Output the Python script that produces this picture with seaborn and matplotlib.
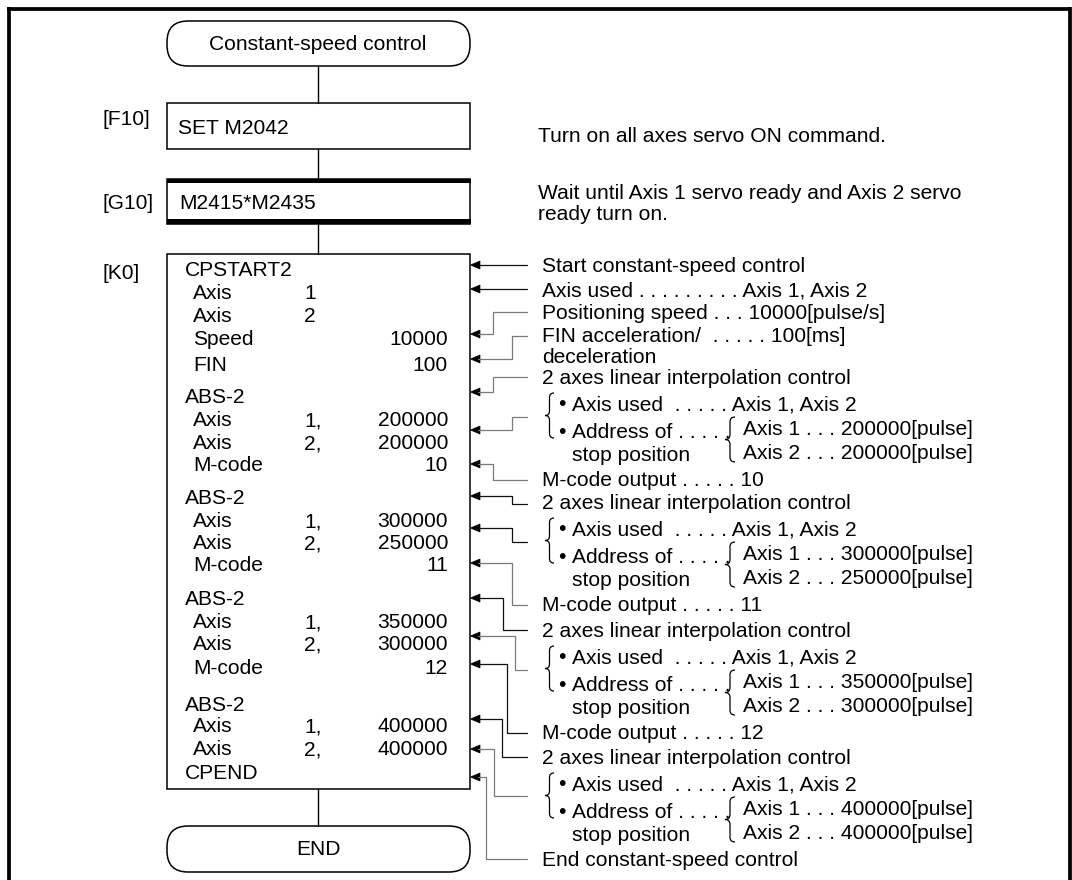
import matplotlib
matplotlib.use("Agg")
import matplotlib.pyplot as plt
import seaborn as sns
import pandas as pd
from matplotlib.patches import Rectangle, FancyBboxPatch, Polygon, PathPatch
from matplotlib.path import Path

sns.set_theme(style="white")
plt.rcParams['font.family'] = ['Liberation Sans', 'DejaVu Sans']

# ---------------- content ----------------
start_label = "Constant-speed control"
end_label = "END"
step_tags = ["[F10]", "[G10]", "[K0]"]
f10_text = "SET M2042"
g10_text = "M2415*M2435"
f10_note = ["Turn on all axes servo ON command."]
g10_note = ["Wait until Axis 1 servo ready and Axis 2 servo", "ready turn on."]

k0_names = ["CPSTART2", "Axis", "Axis", "Speed", "FIN",
            "ABS-2", "Axis", "Axis", "M-code",
            "ABS-2", "Axis", "Axis", "M-code",
            "ABS-2", "Axis", "Axis", "M-code",
            "ABS-2", "Axis", "Axis", "CPEND"]
k0_axis = ["", "1", "2", "", "",
           "", "1,", "2,", "",
           "", "1,", "2,", "",
           "", "1,", "2,", "",
           "", "1,", "2,", ""]
k0_values = ["", "", "", "10000", "100",
             "", "200000", "200000", "10",
             "", "300000", "250000", "11",
             "", "350000", "300000", "12",
             "", "400000", "400000", ""]

head_notes = ["Start constant-speed control",
              "Axis used . . . . . . . . . Axis 1, Axis 2",
              "Positioning speed . . . 10000[pulse/s]",
              "FIN acceleration/  . . . . . 100[ms]",
              "deceleration"]
group_title = "2 axes linear interpolation control"
group_axis_used = "Axis used  . . . . . Axis 1, Axis 2"
group_address = "Address of . . . . ."
group_stop = "stop position"
group_targets = [("200000", "200000"), ("300000", "250000"),
                 ("350000", "300000"), ("400000", "400000")]
group_mcodes = ["10", "11", "12", None]
end_note = "End constant-speed control"

# ---------------- layout (pixels) ----------------
W, H = 1072, 880
FS = 15.1
BOX_L, BOX_R, CX = 167, 470, 318
k0_y = [269, 292, 315, 338, 364, 396, 419, 442, 464, 497, 520, 542, 564,
        598, 621, 643, 667, 704, 725, 748, 772]
head_y = [265, 289, 312, 335, 356]
group_y = [377, 502, 630, 757]
end_note_y = 859
# leader lines: arrow y at box, bend x, target y, tone
leaders = [(265, 500, 265, "k"), (289, 500, 289, "k"), (334, 493, 312, "g"),
           (359, 512, 336, "g"), (392, 493, 377, "g"), (430, 512, 417, "g"),
           (464, 493, 480, "g"), (496, 512, 504, "k"), (528, 512, 542, "k"),
           (563, 512, 605, "g"), (598, 503, 630, "k"), (636, 515, 670, "g"),
           (664, 507, 733, "k"), (719, 502, 757, "k"), (749, 494, 796, "g"),
           (777, 486, 859, "g")]

fig = plt.figure(figsize=(W / 100, H / 100), dpi=100)
ax = fig.add_axes([0, 0, 1, 1])

BL = 7.2  # baseline offset from visual centre


def txt(x, y, s, ha="left", **kw):
    ax.text(x, y + BL, s, ha=ha, va="baseline", fontsize=FS, color="black", **kw)


# outer frame
ax.plot([8.5, 8.5], [7, H], color="black", lw=2.7, solid_capstyle="butt")
ax.plot([7, 1071], [9, 9], color="black", lw=2.7, solid_capstyle="butt")
ax.plot([1070, 1070], [7, H], color="black", lw=2.7, solid_capstyle="butt")

# connectors between boxes
for y0, y1 in [(66, 103), (149, 179), (224, 254), (789, 826)]:
    ax.plot([CX, CX], [y0, y1], color="black", lw=1.0)

# start / end pills
for (y0, y1), lab in [((21, 66), start_label), ((826, 872), end_label)]:
    ax.add_patch(FancyBboxPatch((BOX_L, y0), BOX_R - BOX_L, y1 - y0,
                                boxstyle="round,pad=0,rounding_size=21",
                                fc="white", ec="black", lw=1.1))
    txt(CX, (y0 + y1) / 2 - 1, lab, ha="center")

# F10 box
ax.add_patch(Rectangle((BOX_L, 103), BOX_R - BOX_L, 46, fc="white", ec="black", lw=1.1))
txt(178, 127, f10_text)
txt(102, 118, step_tags[0])
txt(538, 135, f10_note[0])

# G10 box
ax.add_patch(Rectangle((BOX_L, 179), BOX_R - BOX_L, 45, fc="white", ec="black", lw=1.1))
ax.add_patch(Rectangle((BOX_L - 0.5, 179), BOX_R - BOX_L + 1, 4.5, fc="black", ec="none"))
ax.add_patch(Rectangle((BOX_L - 0.5, 219.5), BOX_R - BOX_L + 1, 4.5, fc="black", ec="none"))
txt(179, 202, g10_text)
txt(102, 202, step_tags[1])
txt(538, 192, g10_note[0])
txt(538, 213, g10_note[1])

# K0 box
ax.add_patch(Rectangle((BOX_L, 254), BOX_R - BOX_L, 789 - 254, fc="white", ec="black", lw=1.1))
txt(102, 272, step_tags[2])
for name, axn, val, y in zip(k0_names, k0_axis, k0_values, k0_y):
    heading = name in ("CPSTART2", "ABS-2", "CPEND")
    txt(185 if heading else 193, y, name)
    if axn:
        txt(304, y, axn)
    if val:
        txt(448, y, val, ha="right")

# right-hand explanations
for s, y in zip(head_notes, head_y):
    txt(542, y, s)


def brace(x_tip, y_top, y_bot, w):
    xm, xr = x_tip + w / 2, x_tip + w
    ym = (y_top + y_bot) / 2
    r = w / 2
    verts = [(xr, y_top), (xm, y_top), (xm, y_top + r), (xm, ym - r),
             (xm, ym), (x_tip, ym), (xm, ym), (xm, ym + r), (xm, y_bot - r),
             (xm, y_bot), (xr, y_bot)]
    codes = [Path.MOVETO, Path.CURVE3, Path.CURVE3, Path.LINETO, Path.CURVE3,
             Path.CURVE3, Path.CURVE3, Path.CURVE3, Path.LINETO, Path.CURVE3,
             Path.CURVE3]
    ax.add_patch(PathPatch(Path(verts, codes), fc="none", ec="black", lw=0.9))


for g, (a1, a2), mc in zip(group_y, group_targets, group_mcodes):
    txt(542, g, group_title)
    txt(558, g + 26, "\u2022", ha="left")
    txt(572, g + 26, group_axis_used)
    txt(558, g + 54, "\u2022", ha="left")
    txt(572, g + 54, group_address)
    txt(572, g + 77, group_stop)
    txt(743, g + 51, f"Axis 1 . . . {a1}[pulse]")
    txt(743, g + 75, f"Axis 2 . . . {a2}[pulse]")
    brace(545, g + 16, g + 61, 9)
    brace(725, g + 40, g + 85, 10)
    if mc is not None:
        txt(542, g + 102, f"M-code output . . . . . {mc}")
txt(542, end_note_y, end_note)

# leader lines drawn with seaborn
rows = []
for i, (ya, xb, yt, tone) in enumerate(leaders):
    pts = [(478, ya), (xb, ya), (xb, yt), (527, yt)]
    for x, y in pts:
        rows.append({"x": x, "y": y, "seg": i, "tone": tone})
df = pd.DataFrame(rows)
sns.lineplot(data=df, x="x", y="y", units="seg", hue="tone", estimator=None,
             sort=False, palette={"k": "#111111", "g": "#7a7a7a"},
             legend=False, lw=0.9, ax=ax)
for ya, xb, yt, tone in leaders:
    ax.add_patch(Polygon([(470.5, ya), (480, ya - 4), (480, ya + 4)],
                         closed=True, fc="black", ec="black", lw=0.5))

ax.set_xlim(0, W)
ax.set_ylim(H, 0)
ax.axis("off")
fig.savefig("out.png", dpi=100, facecolor="white")
